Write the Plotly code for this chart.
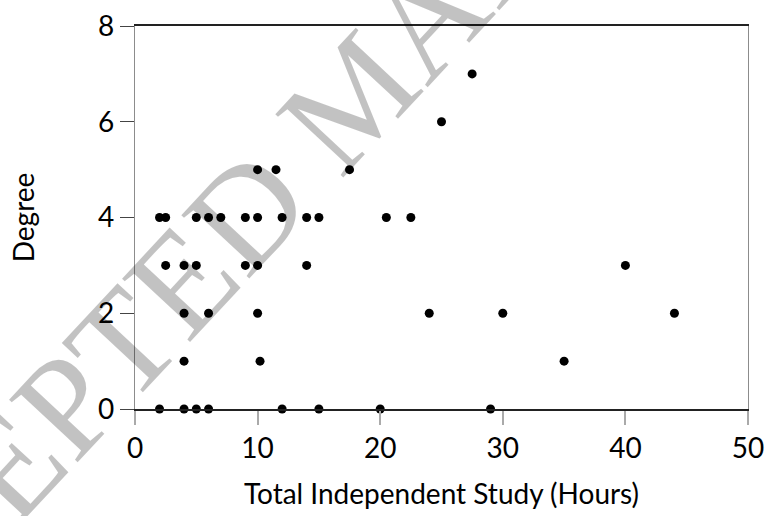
import plotly.graph_objects as go

# Data
study_hours = [27.5,
               25,
               10, 11.5, 17.5,
               2, 2.5, 5, 6, 7, 9, 10, 12, 14, 15, 20.5, 22.5,
               2.5, 4, 5, 9, 10, 14, 40,
               4, 6, 10, 24, 30, 44,
               4, 10.2, 35,
               2, 4, 5, 6, 12, 15, 20, 29]
degree = [7,
          6,
          5, 5, 5,
          4, 4, 4, 4, 4, 4, 4, 4, 4, 4, 4, 4,
          3, 3, 3, 3, 3, 3, 3,
          2, 2, 2, 2, 2, 2,
          1, 1, 1,
          0, 0, 0, 0, 0, 0, 0, 0]

x_ticks = [0, 10, 20, 30, 40, 50]
y_ticks = [0, 2, 4, 6, 8]

font_family = "Lato, DejaVu Sans, sans-serif"

fig = go.Figure()
fig.add_trace(go.Scatter(
    x=study_hours, y=degree, mode="markers",
    marker=dict(color="black", size=9),
    cliponaxis=False, showlegend=False,
))

fig.update_layout(
    width=765, height=516,
    margin=dict(l=135, r=17, t=26, b=107),
    paper_bgcolor="white", plot_bgcolor="white",
    font=dict(family=font_family, size=28, color="black"),
    xaxis=dict(
        range=[0, 50], tickvals=x_ticks, ticktext=[str(v) for v in x_ticks],
        showgrid=False, zeroline=False, automargin=False,
        ticklabeloverflow="allow",
        showline=True, mirror=True, linecolor="#222", linewidth=1.5,
        ticks="outside", ticklen=14, tickcolor="#aaaaaa", tickwidth=1.5,
        title=dict(text="Total Independent Study (Hours)", standoff=21,
                   font=dict(size=28)),
        tickfont=dict(size=28),
    ),
    yaxis=dict(
        range=[0, 8], tickvals=y_ticks, ticktext=[str(v) for v in y_ticks],
        showgrid=False, zeroline=False, automargin=False,
        ticklabeloverflow="allow",
        showline=True, mirror=True, linecolor="#8c8c8c", linewidth=1.2,
        ticks="outside", ticklen=14, tickcolor="#444", tickwidth=1,
        title=dict(text="Degree", standoff=55, font=dict(size=28)),
        tickfont=dict(size=28),
    ),
)

# Publisher watermark
fig.add_annotation(
    text="ACCEPTED MANUSCRIPT", xref="paper", yref="paper",
    x=0.360, y=0.822, xanchor="center", yanchor="middle",
    showarrow=False, textangle=-47,
    font=dict(family="Liberation Serif, serif", size=142,
              color="rgba(0,0,0,0.24)"),
)

fig.write_html(
    "out.html",
    config={"displayModeBar": False},
    post_script="document.body.style.margin='0';"
                "document.documentElement.style.overflow='hidden';",
)
